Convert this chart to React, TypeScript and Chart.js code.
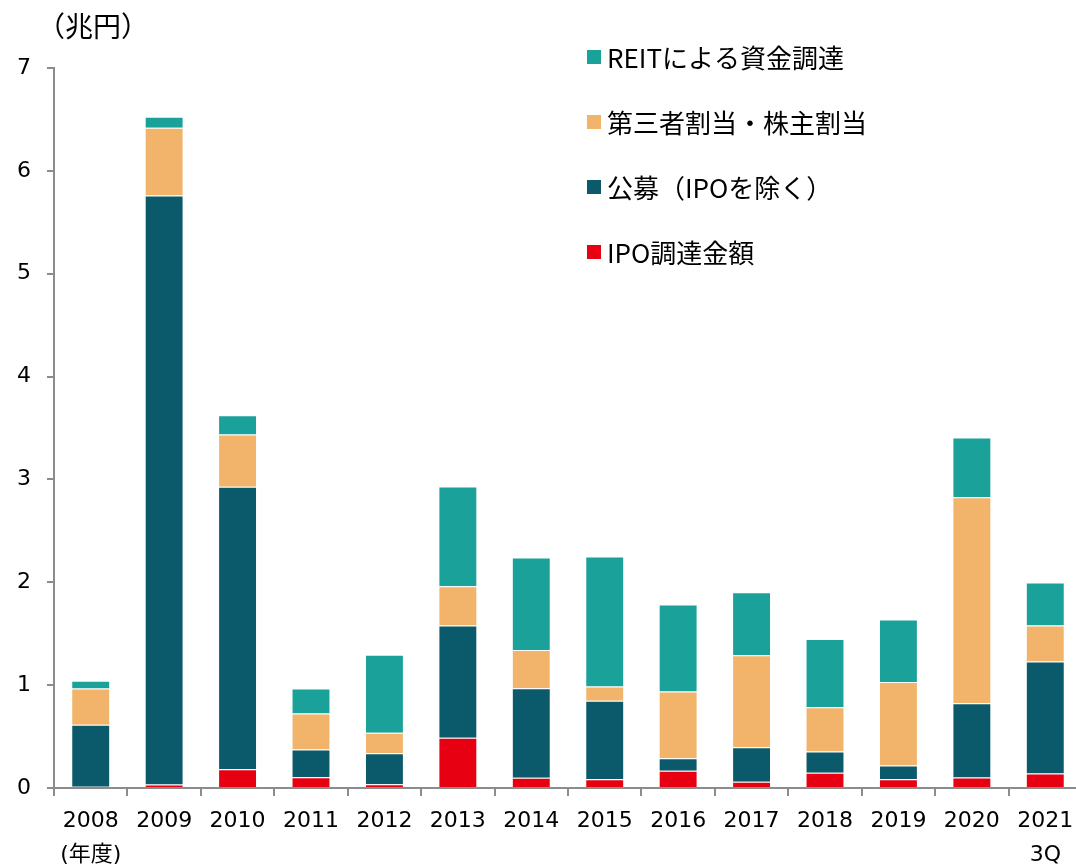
import { useEffect, useRef } from "react";
import { Chart, registerables } from "chart.js";

Chart.register(...registerables);

const categories: string[][] = [
  ["2008", "(年度)"], ["2009"], ["2010"], ["2011"], ["2012"], ["2013"], ["2014"],
  ["2015"], ["2016"], ["2017"], ["2018"], ["2019"], ["2020"], ["2021", "3Q"],
];
const ipo = [0.012, 0.034, 0.183, 0.105, 0.037, 0.489, 0.099, 0.086, 0.167, 0.06, 0.148, 0.086, 0.102, 0.141];
const publicOffer = [0.603, 5.726, 2.745, 0.27, 0.302, 1.09, 0.872, 0.763, 0.123, 0.337, 0.207, 0.133, 0.723, 1.09];
const thirdParty = [0.353, 0.658, 0.509, 0.35, 0.198, 0.382, 0.37, 0.139, 0.649, 0.893, 0.431, 0.811, 2.002, 0.348];
const reit = [0.075, 0.107, 0.188, 0.243, 0.759, 0.97, 0.899, 1.262, 0.844, 0.613, 0.662, 0.607, 0.581, 0.418];
const seriesLabels = ["IPO調達金額", "公募（IPOを除く）", "第三者割当・株主割当", "REITによる資金調達"];
const unitLabel = "（兆円）";
const yMin = 0;
const yMax = 7;
const yStep = 1;

const RED = "#E60012";
const DARK = "#0B5A6B";
const ORANGE = "#F2B46B";
const TEAL = "#1AA19A";
const AXIS = "#8C8C8C";
const LATIN = '"DejaVu Sans", "Noto Sans CJK JP", sans-serif';
const CJK = '"Noto Sans CJK JP", "DejaVu Sans", sans-serif';

const legendPlugin = {
  id: "customLegend",
  afterDraw(chart: any) {
    const ctx = chart.ctx as CanvasRenderingContext2D;
    const ds = chart.data.datasets.slice().reverse();
    ctx.save();
    ctx.font = `26px ${CJK}`;
    ctx.textBaseline = "middle";
    ctx.textAlign = "left";
    ds.forEach((d: any, i: number) => {
      const cy = 57 + i * 65;
      ctx.fillStyle = d.backgroundColor;
      ctx.fillRect(587, cy - 7, 14, 14);
      ctx.fillStyle = "#000";
      ctx.fillText(d.label, 607, cy + 1);
    });
    ctx.restore();
  },
};

const unitPlugin = {
  id: "unitLabel",
  afterDraw(chart: any) {
    const ctx = chart.ctx as CanvasRenderingContext2D;
    ctx.save();
    ctx.font = `28px ${CJK}`;
    ctx.textBaseline = "middle";
    ctx.textAlign = "left";
    ctx.fillStyle = "#000";
    ctx.fillText(unitLabel, 37, 26);
    ctx.restore();
  },
};

export default function App() {
  const ref = useRef<HTMLCanvasElement>(null);
  useEffect(() => {
    const canvas = ref.current!;
    const common = { borderWidth: 1, borderColor: "rgba(255,255,255,0.35)", borderSkipped: "start" as const };
    const chart = new Chart(canvas, {
      type: "bar",
      data: {
        labels: categories,
        datasets: [
          { label: seriesLabels[0], data: ipo, backgroundColor: RED, ...common },
          { label: seriesLabels[1], data: publicOffer, backgroundColor: DARK, ...common },
          { label: seriesLabels[2], data: thirdParty, backgroundColor: ORANGE, ...common },
          { label: seriesLabels[3], data: reit, backgroundColor: TEAL, ...common },
        ],
      },
      options: {
        responsive: false,
        animation: false,
        layout: { padding: { top: 68, left: 0, right: 0, bottom: 0 } },
        datasets: { bar: { barPercentage: 0.53, categoryPercentage: 1 } },
        plugins: { legend: { display: false }, tooltip: { enabled: false }, title: { display: false } },
        scales: {
          x: {
            stacked: true,
            grid: { display: true, drawOnChartArea: false, drawTicks: true, tickLength: 8, color: AXIS, lineWidth: 2, offset: true },
            border: { display: true, color: AXIS, width: 2 },
            ticks: { color: "#000", font: { family: LATIN, size: 22, lineHeight: 1.55 }, padding: 8, maxRotation: 0, autoSkip: false },
            afterFit: (s: any) => { s.height = 78; },
          },
          y: {
            stacked: true,
            min: yMin,
            max: yMax,
            ticks: { stepSize: yStep, color: "#000", font: { family: LATIN, size: 22 }, padding: 16 },
            grid: { display: true, drawOnChartArea: false, drawTicks: true, tickLength: 7, color: AXIS, lineWidth: 2 },
            border: { display: true, color: AXIS, width: 2 },
            afterFit: (s: any) => { s.width = 54; },
          },
        },
      },
      plugins: [legendPlugin, unitPlugin],
    });
    return () => chart.destroy();
  }, []);
  return (
    <div style={{ position: "fixed", left: 0, top: 0, width: 1076, height: 866, overflow: "hidden", background: "#fff" }}>
      <canvas ref={ref} width={1082} height={866} style={{ display: "block" }} />
    </div>
  );
}
